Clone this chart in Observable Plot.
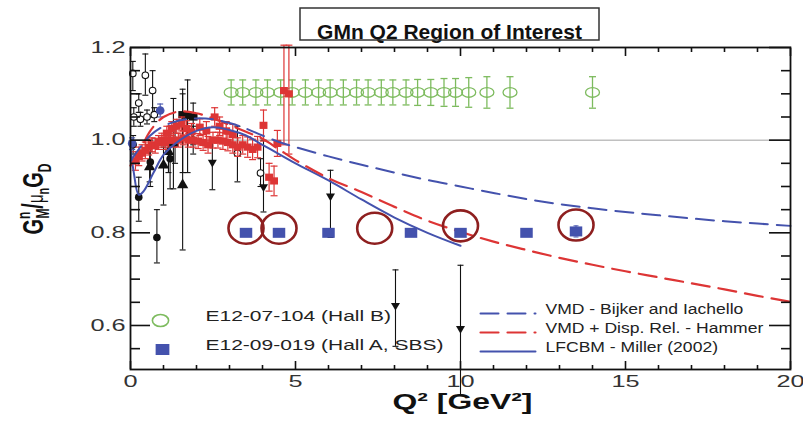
<!DOCTYPE html>
<html><head><meta charset="utf-8">
<script src="https://cdn.jsdelivr.net/npm/d3@7"></script>
<script src="https://cdn.jsdelivr.net/npm/@observablehq/plot@0.6"></script>
<style>body{margin:0;background:#fff;}</style>
</head><body>
<script>
// ---------- tick labels ----------
const xMajorTicks = [0, 5, 10, 15, 20];
const xMinorTicks = [1, 2, 3, 4, 6, 7, 8, 9, 11, 12, 13, 14, 16, 17, 18, 19];
const yMajorTicks = [0.6, 0.8, 1.0, 1.2];
const yMinorTicks = [0.55, 0.65, 0.7, 0.75, 0.85, 0.9, 0.95, 1.05, 1.1, 1.15];

// ---------- theory curves ----------
const bijkerQ = [0, 0.3, 0.6, 1, 1.5, 2, 2.5, 3, 3.5, 4, 4.5, 5, 6, 7, 8, 9, 10, 11, 12, 13, 14, 15, 16, 17, 18, 19, 20];
const bijkerG = [0.955, 0.985, 1.01, 1.03, 1.043, 1.047, 1.045, 1.037, 1.025, 1.01, 0.996, 0.985, 0.965, 0.947, 0.93, 0.914, 0.9, 0.886, 0.873, 0.862, 0.853, 0.845, 0.838, 0.831, 0.825, 0.82, 0.815];
const hammerQ = [0, 0.3, 0.6, 1, 1.5, 2, 2.5, 3, 3.5, 4, 4.5, 5, 6, 7, 8, 9, 10, 11, 12, 13, 14, 15, 16, 17, 18, 19, 20];
const hammerG = [0.945, 0.98, 1.02, 1.05, 1.062, 1.058, 1.047, 1.033, 1.018, 1.003, 0.98, 0.957, 0.918, 0.888, 0.856, 0.826, 0.802, 0.781, 0.763, 0.746, 0.731, 0.717, 0.704, 0.691, 0.678, 0.664, 0.651];
const millerQ = [0, 0.1, 0.25, 0.4, 0.7, 1, 1.5, 2, 2.5, 3, 3.5, 4, 4.5, 5, 6, 7, 8, 9, 10];
const millerG = [0.985, 0.93, 0.882, 0.89, 0.93, 0.968, 1.0, 1.02, 1.028, 1.022, 1.01, 0.99, 0.97, 0.95, 0.913, 0.872, 0.833, 0.8, 0.772];

// ---------- E12-07-104 (Hall B) projections ----------
const hallBQ = [3.05, 3.4, 3.8, 4.15, 4.55, 4.9, 5.3, 5.7, 6.05, 6.45, 6.85, 7.2, 7.6, 7.95, 8.35, 8.7, 9.1, 9.5, 9.85, 10.25, 10.8, 11.5, 14.0];
const hallBG = [1.103, 1.103, 1.103, 1.103, 1.103, 1.103, 1.103, 1.103, 1.103, 1.103, 1.103, 1.103, 1.103, 1.103, 1.103, 1.103, 1.103, 1.103, 1.103, 1.103, 1.103, 1.103, 1.103];
const hallBErr = [0.027, 0.027, 0.027, 0.027, 0.027, 0.027, 0.027, 0.027, 0.027, 0.027, 0.027, 0.027, 0.027, 0.027, 0.027, 0.028, 0.028, 0.03, 0.03, 0.032, 0.034, 0.034, 0.034];

// ---------- E12-09-019 (Hall A, SBS) projections ----------
const sbsQ = [3.5, 4.5, 6.0, 8.5, 10.0, 12.0, 13.5];
const sbsG = [0.8, 0.8, 0.8, 0.8, 0.8, 0.8, 0.803];
const sbsErr = [0.006, 0.005, 0.006, 0.007, 0.007, 0.008, 0.012];
const ringQ = [3.5, 4.5, 7.4, 10.0, 13.5];
const ringG = [0.81, 0.81, 0.81, 0.815, 0.817];

// ---------- CLAS data (red squares) ----------
const clasQ = [0.15, 0.25, 0.35, 0.45, 0.55, 0.65, 0.75, 0.85, 0.95, 1.05, 1.15, 1.3, 1.45, 1.6, 1.75, 1.9, 2.05, 2.2, 2.35, 2.5, 2.65, 2.8, 2.95, 3.1, 3.25, 3.4, 3.55, 3.7, 3.85,
  1.1, 1.25, 1.4, 1.55, 1.7, 1.85, 2.1, 2.3, 2.55, 2.7, 2.9, 3.1, 4.03, 4.2, 4.35, 4.45, 4.65, 4.8];
const clasG = [0.955, 0.965, 0.972, 0.978, 0.985, 0.99, 0.988, 0.995, 1.0, 0.995, 1.0, 1.0, 1.0, 1.005, 1.0, 1.0, 0.998, 0.995, 0.99, 1.0, 1.0, 0.998, 0.995, 0.99, 0.985, 0.99, 0.985, 0.98, 0.985,
  1.015, 1.025, 1.03, 1.035, 1.025, 1.018, 1.028, 1.02, 1.05, 1.03, 1.02, 1.012, 1.032, 0.92, 0.912, 0.993, 1.107, 1.10];
const clasLo = [0.935, 0.945, 0.955, 0.96, 0.968, 0.975, 0.972, 0.98, 0.985, 0.98, 0.985, 0.985, 0.985, 0.99, 0.985, 0.985, 0.982, 0.978, 0.972, 0.983, 0.983, 0.98, 0.977, 0.972, 0.965, 0.97, 0.963, 0.958, 0.962,
  1.0, 1.01, 1.015, 1.02, 1.008, 1.0, 1.01, 1.0, 1.03, 1.01, 1.0, 0.99, 0.998, 0.89, 0.88, 0.965, 0.99, 0.97];
const clasHi = [0.975, 0.985, 0.99, 0.996, 1.002, 1.005, 1.004, 1.01, 1.015, 1.01, 1.015, 1.015, 1.015, 1.02, 1.015, 1.015, 1.014, 1.012, 1.008, 1.017, 1.017, 1.016, 1.013, 1.008, 1.005, 1.01, 1.007, 1.002, 1.008,
  1.03, 1.04, 1.045, 1.05, 1.042, 1.036, 1.046, 1.04, 1.07, 1.05, 1.04, 1.034, 1.065, 0.95, 0.944, 1.021, 1.205, 1.205];

// ---------- world data (black / blue symbols) ----------
const circQ = [0.08, 0.25, 0.6, 0.8, 1.2, 1.35, 1.9];
const circG = [0.99, 0.877, 0.953, 0.79, 0.96, 0.995, 1.0];
const circLo = [0.97, 0.825, 0.9, 0.735, 0.895, 0.95, 0.97];
const circHi = [1.01, 0.92, 1.0, 0.85, 1.03, 1.04, 1.03];
const triUpQ = [0.58, 1.0, 1.15, 1.3, 1.58];
const triUpG = [0.942, 0.946, 0.975, 0.993, 0.903];
const triUpLo = [0.91, 0.86, 0.93, 0.895, 0.763];
const triUpHi = [0.975, 0.985, 1.02, 1.09, 1.11];
const triDnQ = [2.48, 4.03, 6.06, 8.03, 10.0];
const triDnG = [0.95, 0.897, 0.877, 0.641, 0.591];
const triDnLo = [0.893, 0.845, 0.79, 0.555, 0.45];
const triDnHi = [1.0, 1.0, 0.935, 0.72, 0.73];
const sqQ = [1.58, 1.73, 1.9];
const sqG = [1.055, 1.053, 1.05];
const sqLo = [0.93, 0.93, 0.99];
const sqHi = [1.1, 1.13, 1.08];
const openQ = [0.07, 0.45, 0.67, 0.25, 0.1, 0.3, 0.5, 0.72, 3.24, 3.94];
const openG = [1.144, 1.14, 1.107, 1.08, 1.05, 1.045, 1.05, 1.055, 0.972, 0.929];
const openLo = [1.107, 1.097, 1.05, 1.06, 1.03, 1.03, 1.035, 1.04, 0.91, 0.9];
const openHi = [1.17, 1.186, 1.15, 1.1, 1.07, 1.06, 1.065, 1.07, 1.03, 0.96];
const blueQ = [0.9, 0.05];
const blueG = [1.064, 0.993];
const blueLo = [1.05, 0.98];
const blueHi = [1.078, 1.005];

// ---------- helpers ----------
const zip = (q, g, lo, hi) => q.map((v, i) => ({q: v, g: g[i], lo: lo ? lo[i] : undefined, hi: hi ? hi[i] : undefined}));
const ellipse = (ax) => ({draw(ctx, size) {
  const r = Math.sqrt(size / Math.PI), rx = r * ax, ry = r, kx = rx * 0.5523, ky = ry * 0.5523;
  ctx.moveTo(rx, 0);
  ctx.bezierCurveTo(rx, ky, kx, ry, 0, ry);
  ctx.bezierCurveTo(-kx, ry, -rx, ky, -rx, 0);
  ctx.bezierCurveTo(-rx, -ky, -kx, -ry, 0, -ry);
  ctx.bezierCurveTo(kx, -ry, rx, -ky, rx, 0);
  ctx.closePath();
}});
const rectSym = (ax) => ({draw(ctx, size) { const r = Math.sqrt(size / Math.PI); ctx.rect(-r * ax, -r, 2 * r * ax, 2 * r); }});
const capSym = {draw(ctx, size) { const r = Math.sqrt(size / Math.PI); ctx.moveTo(-r, 0); ctx.lineTo(r, 0); }};
const triDown = {draw(ctx, size) { const r = Math.sqrt(size / Math.PI); ctx.moveTo(-r, -r * 0.8); ctx.lineTo(r, -r * 0.8); ctx.lineTo(0, r * 0.9); ctx.closePath(); }};

const BLUE = "#4452ad", RED = "#dd3535", GREEN = "#7dbb5e", DARKRED = "#8e1f1f", BLACK = "#111";

const bijker = zip(bijkerQ, bijkerG), hammer = zip(hammerQ, hammerG), miller = zip(millerQ, millerG);
const hallB = hallBQ.map((q, i) => ({q, g: hallBG[i], lo: hallBG[i] - hallBErr[i], hi: hallBG[i] + hallBErr[i]}));
const sbs = sbsQ.map((q, i) => ({q, g: sbsG[i], lo: sbsG[i] - sbsErr[i], hi: sbsG[i] + sbsErr[i]}));
const rings = zip(ringQ, ringG);
const clas = zip(clasQ, clasG, clasLo, clasHi);
const circ = zip(circQ, circG, circLo, circHi);
const triUp = zip(triUpQ, triUpG, triUpLo, triUpHi);
const triDn = zip(triDnQ, triDnG, triDnLo, triDnHi);
const sq = zip(sqQ, sqG, sqLo, sqHi);
const open = zip(openQ, openG, openLo, openHi);
const blue = zip(blueQ, blueG, blueLo, blueHi);

function errMarks(data, color, capR, sw = 1.2) {
  return [
    Plot.ruleX(data, {x: "q", y1: "lo", y2: "hi", stroke: color, strokeWidth: sw}),
    Plot.dot(data, {x: "q", y: "lo", symbol: capSym, r: capR, stroke: color, strokeWidth: sw}),
    Plot.dot(data, {x: "q", y: "hi", symbol: capSym, r: capR, stroke: color, strokeWidth: sw})
  ];
}

const tickOnly = {label: null, fill: "none", stroke: BLACK, strokeWidth: 1.6};

const chart = Plot.plot({
  width: 803, height: 422,
  marginLeft: 130, marginRight: 13, marginTop: 47, marginBottom: 53,
  x: {domain: [0, 20]},
  y: {domain: [0.505, 1.2]},
  style: {fontFamily: "'Liberation Sans', Arial, Helvetica, sans-serif", background: "#fff", overflow: "visible"},
  marks: [
    Plot.ruleY([1.0], {stroke: "#a0a0a0", strokeWidth: 1}),
    // Hall B projections
    ...errMarks(hallB, GREEN, 3.5, 1.3),
    Plot.dot(hallB, {x: "q", y: "g", symbol: ellipse(1.45), r: 4.8, stroke: GREEN, strokeWidth: 1.3, fill: "none"}),
    // world data
    ...errMarks(open, BLACK, 3, 1.1),
    ...errMarks(circ, BLACK, 3, 1.1),
    ...errMarks(triUp, BLACK, 3, 1.1),
    ...errMarks(triDn, BLACK, 3, 1.1),
    ...errMarks(sq, BLACK, 3, 1.1),
    ...errMarks(blue, BLUE, 3, 1.1),
    Plot.dot(open, {x: "q", y: "g", r: 3.3, stroke: BLACK, fill: "#fff", strokeWidth: 1.1}),
    Plot.dot(circ, {x: "q", y: "g", r: 3.8, fill: BLACK}),
    Plot.dot(triUp, {x: "q", y: "g", symbol: "triangle", r: 4.2, fill: BLACK}),
    Plot.dot(triDn, {x: "q", y: "g", symbol: triDown, r: 4.5, fill: BLACK}),
    Plot.dot(sq, {x: "q", y: "g", symbol: rectSym(1.2), r: 3.6, fill: BLACK}),
    Plot.dot(blue, {x: "q", y: "g", r: 4.3, fill: BLUE}),
    // CLAS
    ...errMarks(clas, RED, 3.5, 1.2),
    Plot.dot(clas, {x: "q", y: "g", symbol: rectSym(1.1), r: 3.6, fill: RED}),
    // theory curves
    Plot.line(miller, {x: "q", y: "g", stroke: BLUE, strokeWidth: 2, curve: "catmull-rom"}),
    Plot.line(hammer, {x: "q", y: "g", stroke: RED, strokeWidth: 2.2, strokeDasharray: "18,9", curve: "catmull-rom"}),
    Plot.line(bijker, {x: "q", y: "g", stroke: BLUE, strokeWidth: 2, strokeDasharray: "18,9", curve: "catmull-rom"}),
    // Hall A / SBS projections and rings
    ...errMarks(sbs, BLUE, 2.5, 1),
    Plot.dot(sbs, {x: "q", y: "g", symbol: rectSym(1.25), r: 5, fill: BLUE}),
    Plot.dot(rings, {x: "q", y: "g", symbol: ellipse(1.13), r: 15.5, stroke: DARKRED, strokeWidth: 2.6, fill: "none"}),
    // legend (left)
    Plot.dot([0], {frameAnchor: "bottom-left", dx: 30, dy: -49, symbol: ellipse(1.35), r: 6, stroke: GREEN, strokeWidth: 1.6, fill: "none"}),
    Plot.dot([0], {frameAnchor: "bottom-left", dx: 32, dy: -20, symbol: rectSym(1.25), r: 5.5, fill: BLUE}),
    Plot.text(["E12-07-104 (Hall B)"], {text: d => d, frameAnchor: "bottom-left", dx: 75, dy: -49, textAnchor: "start", fontSize: 15, fill: "#222"}),
    Plot.text(["E12-09-019 (Hall A, SBS)"], {text: d => d, frameAnchor: "bottom-left", dx: 75, dy: -20, textAnchor: "start", fontSize: 15, fill: "#222"}),
    // legend (right)
    Plot.vector([0], {frameAnchor: "bottom-right", dx: -310, dy: -56, length: 55, rotate: 90, anchor: "start", r: 0, stroke: BLUE, strokeWidth: 2, strokeDasharray: "18,9"}),
    Plot.vector([0], {frameAnchor: "bottom-right", dx: -310, dy: -37, length: 55, rotate: 90, anchor: "start", r: 0, stroke: RED, strokeWidth: 2.2, strokeDasharray: "18,9"}),
    Plot.vector([0], {frameAnchor: "bottom-right", dx: -310, dy: -18, length: 55, rotate: 90, anchor: "start", r: 0, stroke: BLUE, strokeWidth: 2}),
    Plot.text(["VMD - Bijker and Iachello"], {text: d => d, frameAnchor: "bottom-right", dx: -245, dy: -56, textAnchor: "start", fontSize: 15, fill: "#222"}),
    Plot.text(["VMD + Disp. Rel. - Hammer"], {text: d => d, frameAnchor: "bottom-right", dx: -245, dy: -37, textAnchor: "start", fontSize: 15, fill: "#222"}),
    Plot.text(["LFCBM - Miller (2002)"], {text: d => d, frameAnchor: "bottom-right", dx: -245, dy: -18, textAnchor: "start", fontSize: 15, fill: "#222"}),
    // frame and axes
    Plot.frame({stroke: BLACK, strokeWidth: 1.8}),
    Plot.axisX({anchor: "bottom", ticks: xMajorTicks, tickSize: 0, tickPadding: 6, fontSize: 16, fill: "#333", label: null}),
    Plot.axisX({anchor: "bottom", ticks: xMajorTicks, tickSize: -8, ...tickOnly}),
    Plot.axisX({anchor: "bottom", ticks: xMinorTicks, tickSize: -4, ...tickOnly}),
    Plot.axisX({anchor: "top", ticks: xMajorTicks, tickSize: -8, ...tickOnly}),
    Plot.axisX({anchor: "top", ticks: xMinorTicks, tickSize: -4, ...tickOnly}),
    Plot.axisY({anchor: "left", ticks: yMajorTicks, tickSize: 0, tickPadding: 5, tickFormat: d3.format(".1f"), fontSize: 16, fill: "#333", label: null}),
    Plot.axisY({anchor: "left", ticks: yMajorTicks, tickSize: -20, ...tickOnly}),
    Plot.axisY({anchor: "left", ticks: yMinorTicks, tickSize: -10, ...tickOnly}),
    Plot.axisY({anchor: "right", ticks: yMajorTicks, tickSize: -22, ...tickOnly}),
    Plot.axisY({anchor: "right", ticks: yMinorTicks, tickSize: -10, ...tickOnly}),
    // x label and title
    Plot.text(["Q² [GeV²]"], {text: d => d, frameAnchor: "bottom", dx: 2, dy: 39, fontSize: 22, fontWeight: "bold", fill: BLACK}),
    Plot.text(["GMn Q2 Region of Interest"], {text: d => d, frameAnchor: "top", dx: -11, dy: -23, fontSize: 21, fontWeight: "bold", fill: BLACK})
  ]
});

document.body.appendChild(chart);
const svg = d3.select(chart);

// horizontally stretched lettering, as in the reference (scale about each text's anchor)
function stretchFactor(t) {
  if (/^[0-9.]+$/.test(t)) return 1.58;
  if (t.startsWith("E12")) return 1.4;
  if (t.startsWith("VMD") || t.startsWith("LFCBM")) return 1.17;
  if (t.startsWith("Q²")) return 1.45;
  return 1;
}
svg.selectAll("text").each(function() {
  const k = stretchFactor(this.textContent.trim());
  if (k !== 1) {
    const tr = this.getAttribute("transform") || "";
    this.setAttribute("transform", `${tr} scale(${k},1)`);
  }
});

// title box
svg.append("rect").attr("x", 300).attr("y", 8).attr("width", 299).attr("height", 32)
  .attr("fill", "none").attr("stroke", "#333").attr("stroke-width", 1.5);

// y label (rotated, stretched across like the rest of the lettering)
const yl = svg.append("text").attr("transform", "translate(43,199) rotate(-90) scale(1,1.5)")
  .attr("text-anchor", "middle").attr("font-weight", "bold").attr("font-size", 20).attr("fill", BLACK)
  .attr("font-family", "'Liberation Sans', Arial, sans-serif");
yl.append("tspan").text("G");
yl.append("tspan").attr("font-size", 12).attr("dy", -9).text("n");
yl.append("tspan").attr("font-size", 12).attr("dx", -7).attr("dy", 13).text("M");
yl.append("tspan").attr("dy", -4).text("/");
yl.append("tspan").attr("font-size", 15).attr("font-weight", "normal").text("μ");
yl.append("tspan").attr("font-size", 11).attr("dy", 4).text("n");
yl.append("tspan").attr("dy", -4).text("G");
yl.append("tspan").attr("font-size", 12).attr("dy", 5).text("D");
</script>
</body></html>
